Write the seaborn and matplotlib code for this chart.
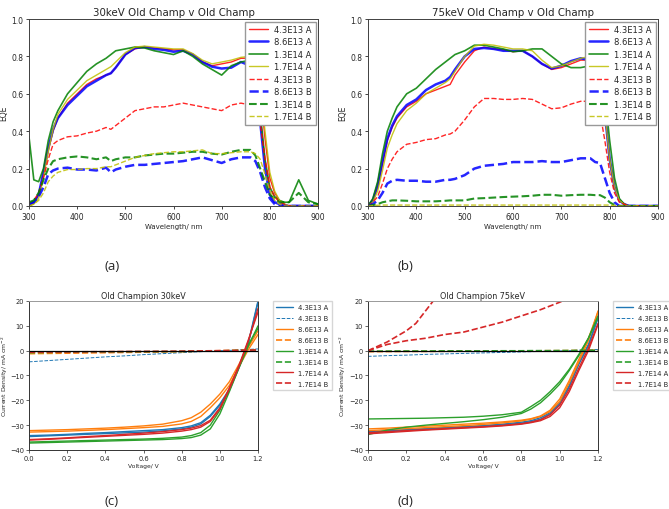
import matplotlib
matplotlib.use("Agg")
import matplotlib.pyplot as plt
import seaborn as sns

# ---- EQE data (wavelength in nm) ----
wavelength = [300, 310, 320, 330, 340, 350, 360, 380, 400, 420, 440, 460, 470, 480,
              500, 520, 540, 560, 580, 600, 620, 640, 660, 680, 700, 720, 740, 760,
              770, 780, 790, 800, 810, 820, 830, 840, 860, 880, 900]
eqe_labels = ["4.3E13 A", "8.6E13 A", "1.3E14 A", "1.7E14 A",
              "4.3E13 B", "8.6E13 B", "1.3E14 B", "1.7E14 B"]

# 30 keV
eqe30_43A = [0.0, 0.02, 0.06, 0.17, 0.30, 0.40, 0.47, 0.55, 0.60, 0.65, 0.68, 0.70, 0.71, 0.74,
             0.81, 0.84, 0.85, 0.845, 0.84, 0.835, 0.835, 0.81, 0.77, 0.75, 0.76, 0.77, 0.79, 0.79,
             0.77, 0.62, 0.36, 0.15, 0.07, 0.03, 0.01, 0.0, 0.0, 0.0, 0.0]
eqe30_86A = [0.0, 0.02, 0.06, 0.18, 0.31, 0.41, 0.47, 0.54, 0.59, 0.64, 0.67, 0.70, 0.71, 0.74,
             0.81, 0.845, 0.85, 0.84, 0.835, 0.825, 0.83, 0.81, 0.77, 0.745, 0.735, 0.74, 0.77, 0.75,
             0.70, 0.45, 0.20, 0.06, 0.02, 0.01, 0.0, 0.0, 0.0, 0.0, 0.0]
eqe30_13A = [0.37, 0.14, 0.13, 0.20, 0.35, 0.45, 0.51, 0.60, 0.66, 0.72, 0.76, 0.79, 0.81, 0.83,
             0.84, 0.85, 0.845, 0.83, 0.82, 0.81, 0.83, 0.80, 0.76, 0.73, 0.70, 0.75, 0.77, 0.78,
             0.76, 0.50, 0.25, 0.10, 0.05, 0.03, 0.02, 0.02, 0.14, 0.03, 0.01]
eqe30_17A = [0.0, 0.01, 0.04, 0.15, 0.29, 0.41, 0.49, 0.57, 0.62, 0.67, 0.70, 0.73, 0.745, 0.77,
             0.82, 0.85, 0.855, 0.85, 0.845, 0.84, 0.84, 0.815, 0.78, 0.76, 0.77, 0.78, 0.795, 0.80,
             0.78, 0.66, 0.40, 0.18, 0.08, 0.03, 0.01, 0.0, 0.0, 0.0, 0.0]
eqe30_43B = [0.01, 0.03, 0.07, 0.15, 0.25, 0.33, 0.35, 0.37, 0.375, 0.39, 0.40, 0.42, 0.41, 0.43,
             0.47, 0.51, 0.52, 0.53, 0.53, 0.54, 0.55, 0.54, 0.53, 0.52, 0.51, 0.54, 0.55, 0.54,
             0.53, 0.45, 0.25, 0.10, 0.05, 0.02, 0.01, 0.0, 0.0, 0.0, 0.0]
eqe30_86B = [0.01, 0.02, 0.05, 0.10, 0.17, 0.19, 0.20, 0.205, 0.195, 0.195, 0.19, 0.205, 0.18, 0.195,
             0.21, 0.22, 0.22, 0.225, 0.23, 0.235, 0.24, 0.25, 0.26, 0.245, 0.23, 0.25, 0.26, 0.26,
             0.24, 0.18, 0.10, 0.04, 0.01, 0.0, 0.0, 0.0, 0.0, 0.0, 0.0]
eqe30_13B = [0.02, 0.03, 0.07, 0.14, 0.20, 0.24, 0.25, 0.26, 0.265, 0.26, 0.25, 0.26, 0.24, 0.25,
             0.26, 0.26, 0.27, 0.275, 0.28, 0.28, 0.285, 0.29, 0.29, 0.28, 0.275, 0.29, 0.30, 0.30,
             0.27, 0.20, 0.13, 0.06, 0.04, 0.02, 0.02, 0.02, 0.07, 0.02, 0.01]
eqe30_17B = [0.0, 0.01, 0.03, 0.07, 0.13, 0.16, 0.18, 0.195, 0.195, 0.20, 0.20, 0.21, 0.21, 0.22,
             0.24, 0.26, 0.27, 0.28, 0.285, 0.29, 0.29, 0.295, 0.30, 0.28, 0.28, 0.285, 0.29, 0.29,
             0.28, 0.25, 0.17, 0.08, 0.03, 0.01, 0.0, 0.0, 0.0, 0.0, 0.0]

# 75 keV
eqe75_43A = [0.0, 0.03, 0.10, 0.22, 0.35, 0.42, 0.47, 0.53, 0.56, 0.60, 0.62, 0.64, 0.65, 0.70,
             0.77, 0.83, 0.85, 0.84, 0.835, 0.825, 0.83, 0.80, 0.76, 0.73, 0.74, 0.76, 0.78, 0.78,
             0.77, 0.70, 0.50, 0.25, 0.10, 0.03, 0.01, 0.0, 0.0, 0.0, 0.0]
eqe75_86A = [0.0, 0.03, 0.11, 0.24, 0.36, 0.43, 0.48, 0.54, 0.57, 0.62, 0.65, 0.67, 0.69, 0.73,
             0.80, 0.84, 0.845, 0.84, 0.83, 0.83, 0.83, 0.80, 0.76, 0.735, 0.75, 0.775, 0.79, 0.78,
             0.76, 0.70, 0.50, 0.25, 0.10, 0.03, 0.01, 0.0, 0.0, 0.0, 0.0]
eqe75_13A = [0.0, 0.04, 0.13, 0.28, 0.40, 0.47, 0.53, 0.60, 0.63, 0.68, 0.73, 0.77, 0.79, 0.81,
             0.83, 0.86, 0.86, 0.85, 0.84, 0.825, 0.83, 0.84, 0.84, 0.80, 0.76, 0.74, 0.74, 0.75,
             0.75, 0.74, 0.60, 0.35, 0.15, 0.04, 0.01, 0.0, 0.0, 0.0, 0.0]
eqe75_17A = [0.0, 0.02, 0.08, 0.19, 0.31, 0.38, 0.44, 0.51, 0.55, 0.60, 0.63, 0.66, 0.68, 0.72,
             0.80, 0.855, 0.865, 0.86, 0.85, 0.84, 0.84, 0.83, 0.78, 0.74, 0.75, 0.77, 0.79, 0.80,
             0.78, 0.72, 0.50, 0.25, 0.10, 0.03, 0.01, 0.0, 0.0, 0.0, 0.0]
eqe75_43B = [0.0, 0.02, 0.05, 0.12, 0.20, 0.25, 0.29, 0.33, 0.34, 0.355, 0.36, 0.38, 0.385, 0.40,
             0.46, 0.53, 0.575, 0.575, 0.57, 0.57, 0.575, 0.57, 0.545, 0.52, 0.525, 0.545, 0.56, 0.56,
             0.55, 0.50, 0.35, 0.18, 0.07, 0.02, 0.01, 0.0, 0.0, 0.0, 0.0]
eqe75_86B = [0.0, 0.01, 0.03, 0.07, 0.12, 0.135, 0.14, 0.135, 0.135, 0.13, 0.13, 0.14, 0.14, 0.145,
             0.165, 0.20, 0.215, 0.22, 0.225, 0.235, 0.235, 0.235, 0.24, 0.235, 0.235, 0.245, 0.255, 0.255,
             0.235, 0.23, 0.15, 0.07, 0.02, 0.0, 0.0, 0.0, 0.0, 0.0, 0.0]
eqe75_13B = [0.0, 0.005, 0.01, 0.02, 0.025, 0.03, 0.03, 0.028, 0.025, 0.025, 0.025, 0.028, 0.03, 0.03,
             0.03, 0.04, 0.042, 0.045, 0.048, 0.05, 0.052, 0.055, 0.06, 0.06, 0.055, 0.058, 0.06, 0.06,
             0.058, 0.058, 0.045, 0.02, 0.005, 0.0, 0.0, 0.0, 0.0, 0.0, 0.0]
eqe75_17B = [0.0, 0.002, 0.004, 0.005, 0.005, 0.005, 0.005, 0.005, 0.005, 0.005, 0.005, 0.005, 0.005, 0.005,
             0.005, 0.005, 0.005, 0.005, 0.005, 0.005, 0.005, 0.005, 0.005, 0.005, 0.005, 0.005, 0.005, 0.005,
             0.005, 0.005, 0.005, 0.005, 0.002, 0.0, 0.0, 0.0, 0.0, 0.0, 0.0]

# ---- JV data (voltage in V, current density in mA cm^-2) ----
voltage = [0.0, 0.1, 0.2, 0.3, 0.4, 0.5, 0.6, 0.7, 0.8, 0.85, 0.9, 0.95, 1.0, 1.05, 1.1, 1.15, 1.2]
jv_labels = ["4.3E13 A", "4.3E13 B", "8.6E13 A", "8.6E13 B",
             "1.3E14 A", "1.3E14 B", "1.7E14 A", "1.7E14 B"]

# 30 keV
j30_43A_1 = [-34.6, -34.3, -34.0, -33.7, -33.4, -33.1, -32.8, -32.3, -31.5, -30.8, -29.5, -26.5, -22.0, -16.0, -7.0, 3.0, 19.5]
j30_43A_2 = [-34.2, -34.0, -33.7, -33.3, -33.0, -32.6, -32.2, -31.8, -31.0, -30.3, -29.0, -26.0, -21.5, -15.5, -6.5, 3.5, 20.0]
j30_43B = [-4.5, -4.0, -3.5, -3.0, -2.5, -2.1, -1.6, -1.2, -0.8, -0.6, -0.4, -0.2, 0.0, 0.1, 0.3, 0.5, 0.7]
j30_86A_1 = [-32.8, -32.6, -32.4, -32.1, -31.8, -31.4, -31.0, -30.5, -29.5, -28.5, -26.5, -23.0, -19.0, -14.0, -6.5, 0.5, 6.5]
j30_86A_2 = [-32.2, -32.0, -31.8, -31.5, -31.2, -30.8, -30.3, -29.6, -28.2, -27.0, -24.8, -21.5, -17.5, -12.5, -5.5, 1.5, 8.0]
j30_86B = [-1.2, -1.1, -1.0, -0.9, -0.8, -0.7, -0.6, -0.5, -0.4, -0.3, -0.2, -0.1, 0.0, 0.1, 0.2, 0.3, 0.4]
j30_13A_1 = [-37.2, -37.0, -36.8, -36.6, -36.4, -36.2, -36.0, -35.8, -35.4, -35.0, -34.0, -31.5, -25.5, -16.5, -7.0, 2.0, 10.0]
j30_13A_2 = [-36.8, -36.6, -36.4, -36.2, -36.0, -35.8, -35.6, -35.3, -34.8, -34.2, -33.0, -30.0, -24.0, -15.5, -6.5, 2.5, 9.0]
j30_13B = [-0.8, -0.7, -0.6, -0.55, -0.5, -0.45, -0.4, -0.35, -0.3, -0.25, -0.2, -0.15, -0.1, 0.0, 0.1, 0.2, 0.3]
j30_17A_1 = [-36.0, -35.7, -35.3, -34.9, -34.5, -34.1, -33.7, -33.2, -32.4, -31.8, -30.8, -28.5, -23.5, -15.5, -6.5, 4.0, 17.0]
j30_17A_2 = [-35.8, -35.5, -35.1, -34.6, -34.2, -33.7, -33.2, -32.6, -31.8, -31.2, -30.2, -28.0, -23.0, -15.0, -6.0, 4.5, 15.5]
j30_17B = [-0.6, -0.55, -0.5, -0.45, -0.4, -0.35, -0.3, -0.25, -0.2, -0.15, -0.1, -0.05, 0.0, 0.05, 0.1, 0.2, 0.3]

# 75 keV
j75_43A_1 = [-33.0, -32.5, -32.0, -31.6, -31.2, -30.8, -30.4, -29.9, -29.2, -28.6, -27.6, -25.5, -21.5, -14.5, -5.5, 2.0, 13.0]
j75_43A_2 = [-32.6, -32.2, -31.8, -31.4, -31.0, -30.6, -30.2, -29.6, -28.8, -28.2, -27.0, -25.0, -21.0, -14.0, -5.0, 2.5, 13.5]
j75_43B = [-2.3, -2.0, -1.8, -1.5, -1.3, -1.1, -0.9, -0.7, -0.5, -0.4, -0.3, -0.2, -0.1, 0.0, 0.2, 0.3, 0.5]
j75_86A_1 = [-31.5, -31.2, -30.8, -30.4, -30.0, -29.6, -29.2, -28.7, -28.0, -27.4, -26.3, -24.0, -19.5, -12.0, -3.5, 5.0, 15.5]
j75_86A_2 = [-32.2, -31.8, -31.4, -31.0, -30.6, -30.2, -29.7, -29.1, -28.3, -27.6, -26.5, -24.5, -20.5, -13.0, -4.5, 4.0, 16.0]
j75_86B = [-0.4, -0.35, -0.3, -0.3, -0.25, -0.2, -0.2, -0.15, -0.1, -0.1, -0.05, 0.0, 0.0, 0.05, 0.1, 0.15, 0.2]
j75_13A_1 = [-27.5, -27.4, -27.3, -27.2, -27.0, -26.8, -26.4, -25.8, -24.8, -22.5, -20.0, -16.5, -12.5, -7.5, -1.5, 5.0, 14.0]
j75_13A_2 = [-33.8, -32.0, -30.8, -30.0, -29.3, -28.6, -27.8, -26.8, -25.3, -23.5, -21.0, -17.5, -13.5, -8.0, -2.0, 5.0, 13.5]
j75_13B = [-0.2, -0.2, -0.15, -0.15, -0.1, -0.1, -0.1, -0.05, -0.05, 0.0, 0.0, 0.0, 0.05, 0.05, 0.1, 0.1, 0.15]
j75_17A_1 = [-33.0, -32.6, -32.2, -31.8, -31.4, -31.0, -30.6, -30.1, -29.4, -28.8, -27.8, -25.8, -22.0, -15.5, -7.0, 1.0, 11.0]
j75_17A_2 = [-33.5, -33.0, -32.5, -32.0, -31.6, -31.2, -30.8, -30.3, -29.6, -29.0, -28.2, -26.5, -23.0, -16.5, -8.0, 0.0, 10.5]
v75_17B_1 = [0.0, 0.1, 0.2, 0.25, 0.3, 0.35, 0.4]
j75_17B_1 = [0.0, 3.5, 8.0, 11.0, 16.0, 21.0, 30.0]
v75_17B_2 = [0.0, 0.1, 0.2, 0.3, 0.4, 0.5, 0.6, 0.7, 0.8, 0.9, 1.0, 1.1]
j75_17B_2 = [0.0, 2.5, 4.0, 5.0, 6.5, 7.5, 9.5, 11.5, 14.0, 16.5, 19.5, 23.0]

sns.set_style("ticks")
plt.rcParams["font.family"] = ["DejaVu Sans"]

fig = plt.figure(figsize=(6.69, 5.10), dpi=100)

eqe_colors = ["r", "b", "g", "y", "r", "b", "g", "y"]
eqe_widths = [1.0, 1.8, 1.2, 1.0, 1.0, 1.8, 1.5, 1.0]
eqe_styles = ["-", "-", "-", "-", "--", "--", "--", "--"]


def eqe_panel(ax, curves, title):
    for y, lab, c, lw, ls in zip(curves, eqe_labels, eqe_colors, eqe_widths, eqe_styles):
        sns.lineplot(x=wavelength, y=y, ax=ax, color=c, lw=lw, linestyle=ls,
                     label=lab, alpha=0.85)
    ax.set_xlim(300, 900)
    ax.set_ylim(0, 1.0)
    ax.set_xticks(range(300, 901, 100))
    ax.set_yticks([0.0, 0.2, 0.4, 0.6, 0.8, 1.0])
    ax.set_yticklabels(["0.0", "0.2", "0.4", "0.6", "0.8", "1.0"])
    ax.tick_params(labelsize=5.5, length=2.5, width=0.6, pad=1.5)
    ax.set_title(title, fontsize=7.4, pad=3)
    ax.set_xlabel("Wavelength/ nm", fontsize=5, labelpad=2)
    ax.set_ylabel("EQE", fontsize=5.5, labelpad=2)
    ax.legend(loc="upper right", fontsize=6, frameon=True, fancybox=False,
              edgecolor="0.6", handlelength=2.3, labelspacing=0.42,
              borderpad=0.4, borderaxespad=0.3, framealpha=1)
    for s in ax.spines.values():
        s.set_linewidth(0.7)
        s.set_color("0.25")


ax_a = fig.add_axes([29 / 669, 1 - 207 / 510, 289 / 669, 187 / 510])
eqe_panel(ax_a, [eqe30_43A, eqe30_86A, eqe30_13A, eqe30_17A,
                 eqe30_43B, eqe30_86B, eqe30_13B, eqe30_17B], "30keV Old Champ v Old Champ")
ax_b = fig.add_axes([368 / 669, 1 - 207 / 510, 290 / 669, 187 / 510])
eqe_panel(ax_b, [eqe75_43A, eqe75_86A, eqe75_13A, eqe75_17A,
                 eqe75_43B, eqe75_86B, eqe75_13B, eqe75_17B], "75keV Old Champ v Old Champ")

jv_colors = ["C0", "C0", "C1", "C1", "C2", "C2", "C3", "C3"]
jv_styles = ["-", "--", "-", "--", "-", "--", "-", "--"]
jv_widths = [1.0, 0.7, 1.0, 1.2, 1.0, 1.2, 1.0, 1.2]


def jv_panel(ax, curves, title):
    # curves: list of 8 lists of (v, j) sweeps, in legend order
    for sweeps, lab, c, ls, lw in zip(curves, jv_labels, jv_colors, jv_styles, jv_widths):
        for k, (v, j) in enumerate(sweeps):
            sns.lineplot(x=v, y=j, ax=ax, color=c, linestyle=ls, lw=lw,
                         label=lab if k == 0 else None)
    ax.axhline(0, color="k", lw=0.9)
    ax.set_xlim(0, 1.2)
    ax.set_ylim(-40, 20)
    ax.set_xticks([0.0, 0.2, 0.4, 0.6, 0.8, 1.0, 1.2])
    ax.set_xticklabels(["0.0", "0.2", "0.4", "0.6", "0.8", "1.0", "1.2"])
    ax.set_yticks(range(-40, 21, 10))
    ax.tick_params(labelsize=4.8, length=2, width=0.5, pad=1.5)
    ax.set_title(title, fontsize=5.8, pad=2)
    ax.set_xlabel("Voltage/ V", fontsize=4.3, labelpad=1.5)
    ax.set_ylabel("Current Density/ mA cm$^{-2}$", fontsize=4.4)
    ax.yaxis.set_label_coords(-0.085, 0.5)
    ax.legend(loc="upper left", bbox_to_anchor=(1.065, 1.0), borderaxespad=0,
              fontsize=4.9, frameon=True, fancybox=False, edgecolor="0.8",
              handlelength=2.4, labelspacing=0.72, borderpad=0.5)
    for s in ax.spines.values():
        s.set_linewidth(0.7)
        s.set_color("0.2")
    ax.spines["top"].set_color("0.6")


ax_c = fig.add_axes([29 / 669, 1 - 451 / 510, 229 / 669, 149 / 510])
jv_panel(ax_c, [[(voltage, j30_43A_1), (voltage, j30_43A_2)], [(voltage, j30_43B)],
                [(voltage, j30_86A_1), (voltage, j30_86A_2)], [(voltage, j30_86B)],
                [(voltage, j30_13A_1), (voltage, j30_13A_2)], [(voltage, j30_13B)],
                [(voltage, j30_17A_1), (voltage, j30_17A_2)], [(voltage, j30_17B)]],
         "Old Champion 30keV")
ax_d = fig.add_axes([368 / 669, 1 - 451 / 510, 230 / 669, 149 / 510])
jv_panel(ax_d, [[(voltage, j75_43A_1), (voltage, j75_43A_2)], [(voltage, j75_43B)],
                [(voltage, j75_86A_1), (voltage, j75_86A_2)], [(voltage, j75_86B)],
                [(voltage, j75_13A_1), (voltage, j75_13A_2)], [(voltage, j75_13B)],
                [(voltage, j75_17A_1), (voltage, j75_17A_2)],
                [(v75_17B_1, j75_17B_1), (v75_17B_2, j75_17B_2)]],
         "Old Champion 75keV")

for lab, x, y in [("(a)", 112, 267), ("(b)", 405, 267), ("(c)", 112, 502), ("(d)", 405, 502)]:
    fig.text(x / 669, 1 - y / 510, lab, ha="center", va="center",
             fontsize=9.5, family=["Open Sans", "DejaVu Sans"])

fig.savefig("out.png", dpi=100)
